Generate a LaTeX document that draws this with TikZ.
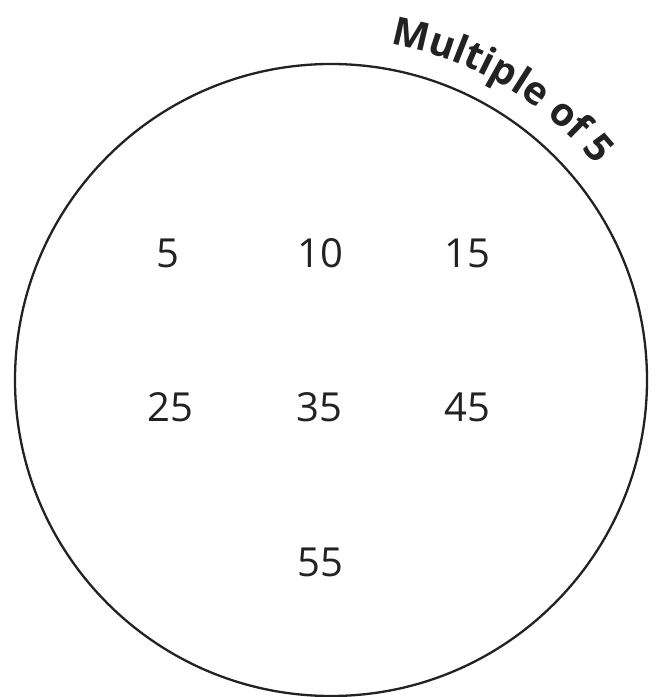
\documentclass[tikz,border=0pt]{standalone}
\usepackage{fontspec}
\setmainfont{Open Sans}
\usetikzlibrary{decorations.text}
\definecolor{ink}{HTML}{222222}
\tikzset{
  num/.style={anchor=base, inner sep=0pt, text=ink, font=\fontsize{40}{40}\selectfont},
  ring/.style={draw=ink, line width=2.3pt}
}
\begin{document}
\begin{tikzpicture}[x=1pt,y=1pt]
\useasboundingbox (0,0) rectangle (656,697);
\coordinate (c) at (331,317);
\node[ring, circle, minimum size=632pt, inner sep=0pt] (set) at (c) {};
\path[decorate, decoration={text along path, text align=left,
  text={|\fontsize{39}{39}\bfseries\color{ink}|Multiple of 5}}]
  (c) ++(80:341) arc[start angle=80, end angle=30, radius=341];
\node[num] (n5) at (168,429) {5};
\node[num] (n10) at (320,429) {10};
\node[num] (n15) at (467,429) {15};
\node[num] (n25) at (170,275) {25};
\node[num] (n35) at (319,275) {35};
\node[num] (n45) at (467,275) {45};
\node[num] (n55) at (320,120) {55};
\end{tikzpicture}
\end{document}
